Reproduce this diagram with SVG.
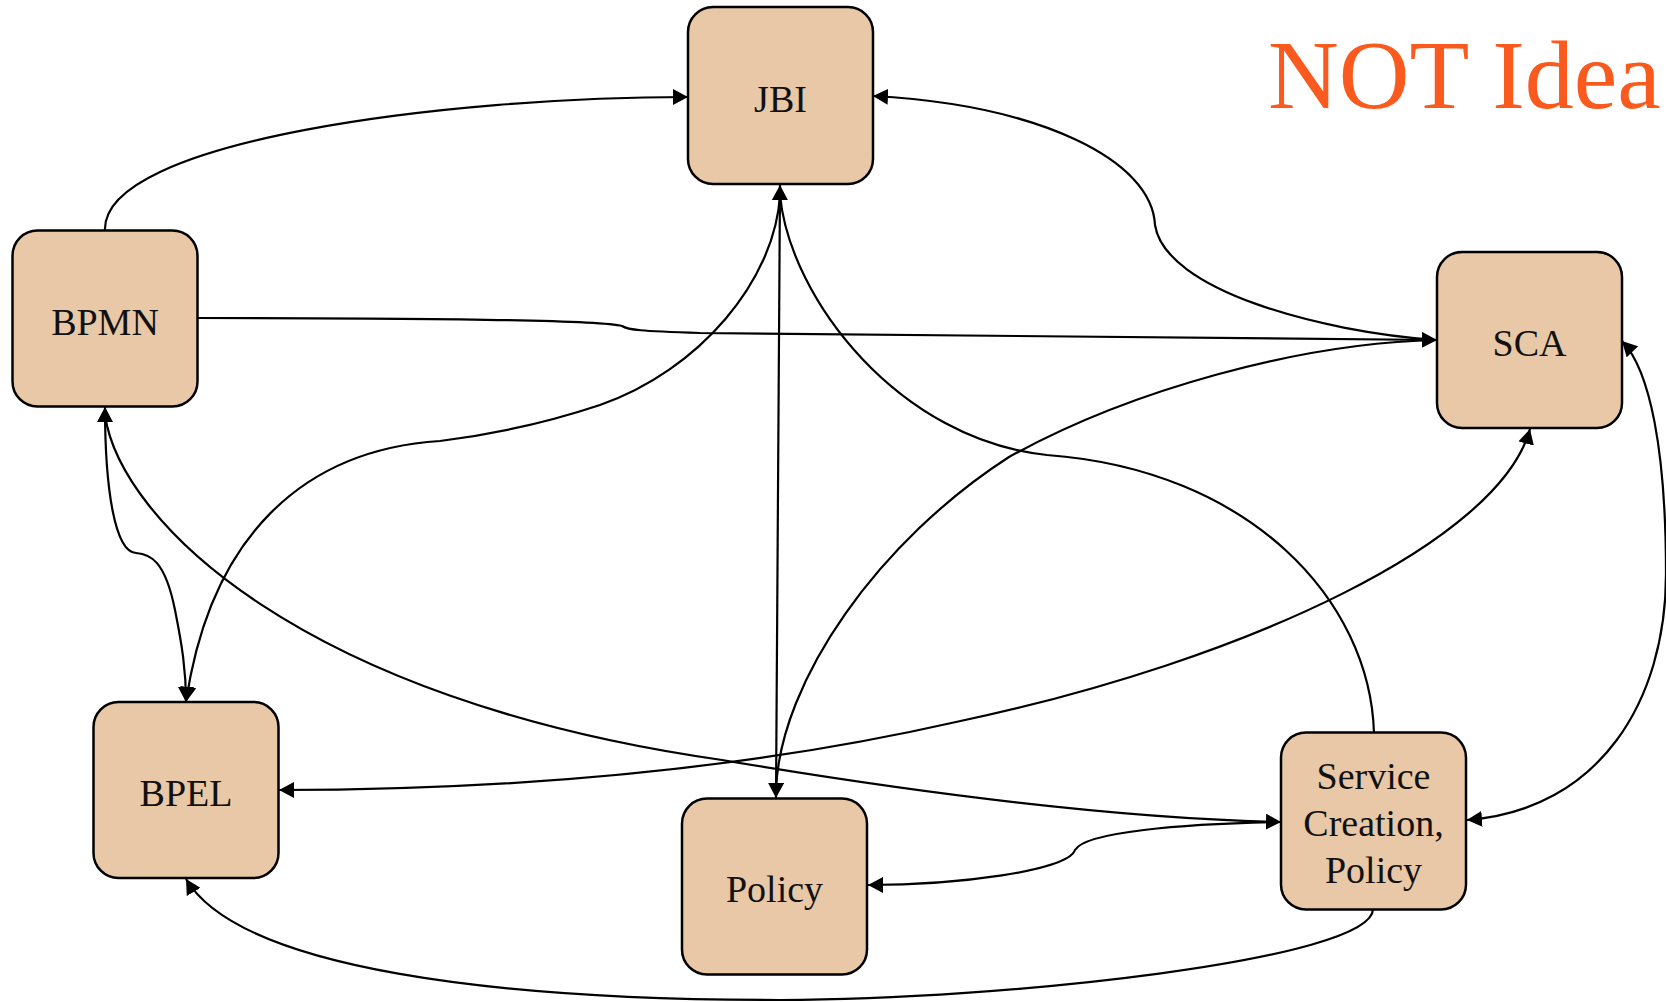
<svg xmlns="http://www.w3.org/2000/svg" width="1666" height="1002" viewBox="0 0 1666 1002">
<style>
.box{fill:#E8C8A6;stroke:#000;stroke-width:2.5}
.lbl{font-family:"Liberation Serif","Times New Roman",serif;font-size:38px;fill:#111;text-anchor:middle}
.ln{fill:none;stroke:#000;stroke-width:2.2}
.title{font-family:"Liberation Serif","Times New Roman",serif;font-size:98px;fill:#FA5A1E}
</style>
<defs>
<marker id="ah" viewBox="0 0 15 16" refX="15" refY="8" markerWidth="15" markerHeight="16" orient="auto-start-reverse" markerUnits="userSpaceOnUse">
<path d="M0,0 L15,8 L0,16 z" fill="#000"/>
</marker>
</defs>
<rect width="1666" height="1002" fill="#fff"/>
<text class="title" x="1268" y="108">NOT Idea</text>
<g id="connectors">
<path class="ln" d="M105,231 C100,140 450,97 688,97" marker-end="url(#ah)"/>
<path class="ln" d="M1437,340 C1320,332 1165,290 1155,225 C1152,160 1040,105 873,96" marker-end="url(#ah)"/>
<path class="ln" d="M198,318 C400,318 600,320 622,326 C628,330 640,331 700,333 L1437,340" marker-end="url(#ah)"/>
<path class="ln" d="M780,185 L776,798" marker-start="url(#ah)" marker-end="url(#ah)"/>
<path class="ln" d="M780,195 C775,280 700,370 600,405 C540,425 480,436 440,441 C300,450 210,540 186,702" marker-end="url(#ah)"/>
<path class="ln" d="M780,195 C790,300 900,440 1047,455 C1250,470 1370,600 1374,733"/>
<path class="ln" d="M1437,340 C1300,343 1130,390 1009,457 C880,540 780,680 776,790"/>
<path class="ln" d="M1530,429 C1500,540 1250,660 956,722 C700,780 450,790 279,790" marker-start="url(#ah)" marker-end="url(#ah)"/>
<path class="ln" d="M1622,341 C1650,370 1666,450 1666,574 C1666,700 1600,810 1467,820" marker-start="url(#ah)" marker-end="url(#ah)"/>
<path class="ln" d="M105,407 C105,490 115,552 136,553 C150,554 165,560 175,610 C182,645 186,670 186,702" marker-start="url(#ah)" marker-end="url(#ah)"/>
<path class="ln" d="M105,415 C120,520 300,700 722,760 C900,790 1100,818 1281,822" marker-end="url(#ah)"/>
<path class="ln" d="M1281,822 C1180,824 1085,832 1075,850 C1068,871 956,885 868,885" marker-end="url(#ah)"/>
<path class="ln" d="M1373,909 C1373,960 1000,1000 780,1000 C500,1000 240,970 186,879" marker-end="url(#ah)"/>
</g>
<g id="JBI"><rect class="box" x="688" y="7" width="185" height="177" rx="25"/><text class="lbl" x="780.5" y="112">JBI</text></g>
<g id="BPMN"><rect class="box" x="12.5" y="230.5" width="185" height="176" rx="25"/><text class="lbl" x="105" y="335">BPMN</text></g>
<g id="SCA"><rect class="box" x="1437" y="252" width="185" height="176" rx="25"/><text class="lbl" x="1529.5" y="356">SCA</text></g>
<g id="BPEL"><rect class="box" x="93.5" y="702" width="185" height="176" rx="25"/><text class="lbl" x="186" y="806">BPEL</text></g>
<g id="Policy"><rect class="box" x="682" y="798.5" width="185" height="176" rx="25"/><text class="lbl" x="774.5" y="902">Policy</text></g>
<g id="ServiceCreationPolicy"><rect class="box" x="1281" y="732.5" width="185" height="177" rx="25"/><text class="lbl" x="1373.5" y="789">Service</text><text class="lbl" x="1373.5" y="836">Creation,</text><text class="lbl" x="1373.5" y="883">Policy</text></g>
</svg>
